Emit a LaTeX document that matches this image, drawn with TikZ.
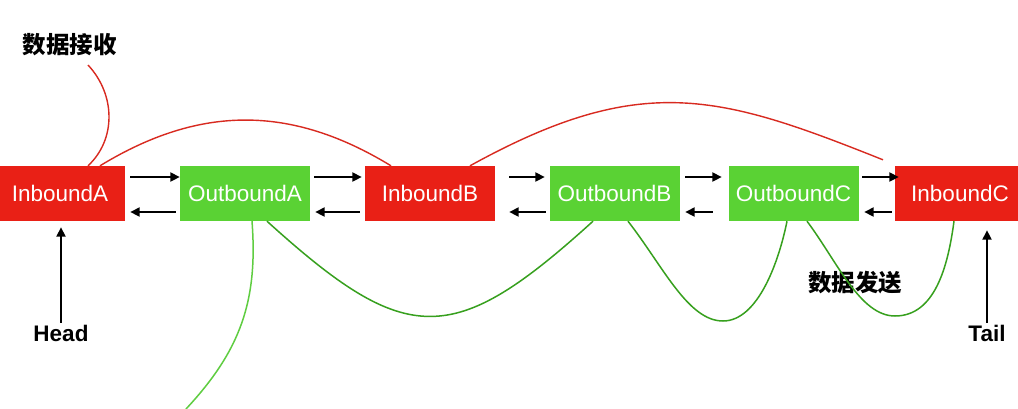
\documentclass[tikz,border=0pt]{standalone}
\usepackage{fontspec}
\setmainfont{Liberation Sans}
\newfontfamily\cjk{Noto Sans CJK SC}
\usetikzlibrary{arrows.meta,calc}
\definecolor{boxred}{RGB}{233,32,22}
\definecolor{boxgreen}{RGB}{90,210,52}
\definecolor{linered}{RGB}{216,42,32}
\definecolor{linegreen}{RGB}{55,160,30}
\definecolor{lightgreen}{RGB}{95,205,65}
\begin{document}
\begin{tikzpicture}[x=1pt,y=-1pt,
  box/.style={minimum width=130pt,minimum height=55pt,inner sep=0pt,text=white,
    font=\fontsize{22.5}{27}\selectfont},
  inbox/.style={box,fill=boxred},
  outbox/.style={box,fill=boxgreen},
  arr/.style={line width=1.8pt,-{Triangle[length=9.5pt,width=9pt]}},
  redline/.style={draw=linered,line width=1.4pt},
  greenline/.style={draw=linegreen,line width=1.5pt},
  lgreenline/.style={draw=lightgreen,line width=1.5pt},
  endlabel/.style={inner sep=0pt,font=\fontsize{22.5}{27}\selectfont\bfseries},
  cjklabel/.style={inner sep=0pt,font=\fontsize{23.5}{28}\selectfont\cjk\bfseries}]
\useasboundingbox[fill=white] (0,0) rectangle (1018,408);

% boxes
\node[inbox]  (ia) at (60,193.5)    {InboundA};
\node[outbox] (oa) at (245,193.5)   {OutboundA};
\node[inbox]  (ib) at (430,193.5)   {InboundB};
\node[outbox] (ob) at (614.5,193.5) {OutboundB};
\node[outbox] (oc) at (793.5,193.5) {OutboundC};
\node[inbox]  (ic) at (960,193.5)   {InboundC};

% labels
\node[cjklabel] (recv) at (70,45)  {数据接收};
\node[cjklabel] (send) at (855,283) {数据发送};
\node[endlabel] (head) at (61,333) {Head};
\node[endlabel] (tail) at (987,333) {Tail};

% free ends and curve bottoms
\coordinate (r0) at (88,65);
\coordinate (g0) at (186,409);
\coordinate (b3) at (723,321);
\coordinate (b4) at (895,316);

% arrows between boxes
\draw[arr] ([xshift=5pt,yshift=16.5pt]ia.east) -- ([yshift=16.5pt]oa.west);
\draw[arr] ([xshift=-4pt,yshift=-18.5pt]oa.west) -- ([xshift=5pt,yshift=-18.5pt]ia.east);
\draw[arr] ([xshift=4pt,yshift=16.5pt]oa.east) -- ([xshift=-3pt,yshift=16.5pt]ib.west);
\draw[arr] ([xshift=-5pt,yshift=-18.5pt]ib.west) -- ([xshift=5pt,yshift=-18.5pt]oa.east);
\draw[arr] ([xshift=14pt,yshift=16.5pt]ib.east) -- ([xshift=-4.5pt,yshift=16.5pt]ob.west);
\draw[arr] ([xshift=-3.5pt,yshift=-18.5pt]ob.west) -- ([xshift=14pt,yshift=-18.5pt]ib.east);
\draw[arr] ([xshift=5.5pt,yshift=16.5pt]ob.east) -- ([xshift=-6.5pt,yshift=16.5pt]oc.west);
\draw[arr] ([xshift=-15.5pt,yshift=-18.5pt]oc.west) -- ([xshift=5.5pt,yshift=-18.5pt]ob.east);
\draw[arr] ([xshift=3.5pt,yshift=16.5pt]oc.east) -- ([xshift=4pt,yshift=16.5pt]ic.west);
\draw[arr] ([xshift=-3pt,yshift=-18.5pt]ic.west) -- ([xshift=5.5pt,yshift=-18.5pt]oc.east);

% head / tail
\draw[arr] ([yshift=2pt]head.north) -- ($(head.north |- ia.south)+(0,6)$);
\draw[arr] ([yshift=2pt]tail.north) -- ($(tail.north |- ic.south)+(0,9)$);

% red curves
\draw[redline] (r0) .. controls +(28,30) and +(28,-26) .. ([xshift=28pt]ia.north);
\draw[redline] ([xshift=40pt]ia.north) .. controls +(100,-61) and +(-100,-61) .. ([xshift=-39pt]ib.north);
\draw[redline] ([xshift=40pt]ib.north) .. controls +(172,-95) and +(-163,-65) .. ([xshift=-77pt,yshift=6pt]ic.north);

% green curves
\draw[lgreenline] ([xshift=7pt]oa.south) .. controls +(6,79) and +(55,-59) .. (g0);
\draw[greenline] ([xshift=22pt]oa.south) .. controls +(140,127) and +(-140,127) .. ([xshift=-21.5pt]ob.south);
\draw[greenline] ([xshift=13.5pt]ob.south) .. controls +(35,45) and +(-35,0) .. (b3)
  .. controls +(35,0) and +(-8,40) .. ([xshift=-6.5pt]oc.south);
\draw[greenline] ([xshift=13.5pt]oc.south) .. controls +(30,40) and +(-35,0) .. (b4)
  .. controls +(40,0) and +(-6,45) .. ([xshift=-6pt]ic.south);
\end{tikzpicture}
\end{document}
